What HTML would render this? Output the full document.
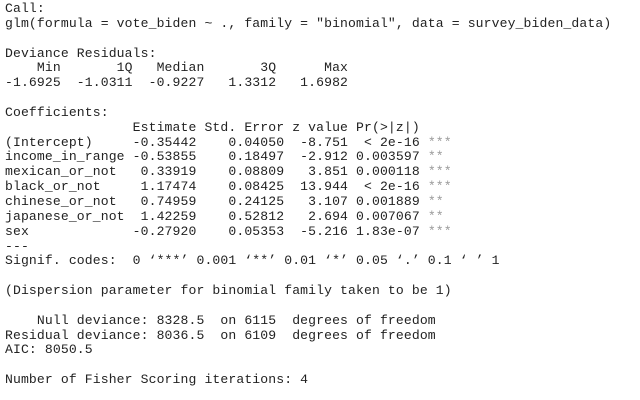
<!DOCTYPE html>
<html><head><meta charset="utf-8"><style>
html,body{margin:0;padding:0;background:#fff;width:640px;height:400px;overflow:hidden}
pre{position:absolute;left:5px;top:2px;margin:0;font-family:"Liberation Mono",monospace;font-size:13.1px;line-height:14.84px;color:#222;letter-spacing:0.12px}
.s{color:#999}
</style></head><body>
<pre>Call:
glm(formula = vote_biden ~ ., family = "binomial", data = survey_biden_data)

Deviance Residuals:
    Min       1Q   Median       3Q      Max  
-1.6925  -1.0311  -0.9227   1.3312   1.6982  

Coefficients:
                Estimate Std. Error z value Pr(&gt;|z|)    
(Intercept)     -0.35442    0.04050  -8.751  &lt; 2e-16 <span class="s">***</span>
income_in_range -0.53855    0.18497  -2.912 0.003597 <span class="s">** </span>
mexican_or_not   0.33919    0.08809   3.851 0.000118 <span class="s">***</span>
black_or_not     1.17474    0.08425  13.944  &lt; 2e-16 <span class="s">***</span>
chinese_or_not   0.74959    0.24125   3.107 0.001889 <span class="s">** </span>
japanese_or_not  1.42259    0.52812   2.694 0.007067 <span class="s">** </span>
sex             -0.27920    0.05353  -5.216 1.83e-07 <span class="s">***</span>
---
Signif. codes:  0 ‘***’ 0.001 ‘**’ 0.01 ‘*’ 0.05 ‘.’ 0.1 ‘ ’ 1

(Dispersion parameter for binomial family taken to be 1)

    Null deviance: 8328.5  on 6115  degrees of freedom
Residual deviance: 8036.5  on 6109  degrees of freedom
AIC: 8050.5

Number of Fisher Scoring iterations: 4
</pre>
</body></html>
